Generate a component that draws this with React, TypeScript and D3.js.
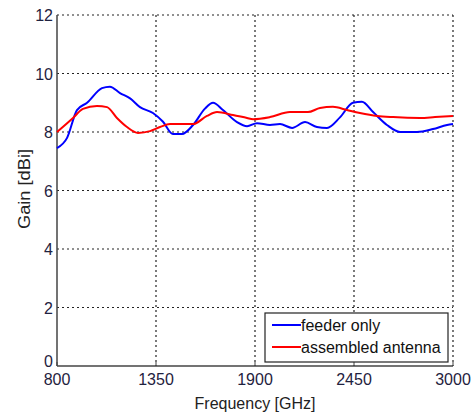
import React from "react";
import * as d3 from "d3";

const feederFreq = [800, 856, 911, 967, 1050, 1094, 1150, 1206, 1261, 1333, 1389, 1444, 1494, 1556, 1622, 1667, 1722, 1800, 1856, 1911, 1983, 2039, 2106, 2178, 2244, 2300, 2372, 2444, 2494, 2556, 2633, 2706, 2800, 2889, 2967, 3000];
const feederGain = [7.45, 7.8, 8.75, 9.0, 9.5, 9.55, 9.33, 9.15, 8.85, 8.65, 8.35, 7.93, 7.93, 8.24, 8.8, 9.0, 8.75, 8.34, 8.2, 8.3, 8.24, 8.27, 8.14, 8.34, 8.17, 8.14, 8.5, 9.0, 9.03, 8.68, 8.24, 8.0, 8.0, 8.1, 8.24, 8.27];
const assembledFreq = [800, 889, 944, 1022, 1078, 1133, 1189, 1250, 1317, 1372, 1428, 1556, 1633, 1689, 1778, 1856, 1889, 1983, 2094, 2194, 2261, 2333, 2411, 2483, 2578, 2667, 2817, 2900, 3000];
const assembledGain = [8.0, 8.48, 8.79, 8.89, 8.85, 8.48, 8.17, 7.97, 8.03, 8.17, 8.27, 8.27, 8.55, 8.68, 8.58, 8.48, 8.44, 8.51, 8.68, 8.68, 8.82, 8.86, 8.75, 8.65, 8.55, 8.51, 8.48, 8.51, 8.55];
const xTicks = [800, 1350, 1900, 2450, 3000];
const yTicks = [0, 2, 4, 6, 8, 10, 12];
const seriesNames = ["feeder only", "assembled antenna"];
const seriesColors = ["#0000ff", "#ff0000"];

export default function App() {
  const W = 475, H = 417;
  const left = 57, right = 453, top = 15, bottom = 366;
  const x = d3.scaleLinear().domain([800, 3000]).range([left, right]);
  const y = d3.scaleLinear().domain([0, 12]).range([bottom, top]);
  const line = d3.line<[number, number]>().x(d => x(d[0])).y(d => y(d[1])).curve(d3.curveMonotoneX);
  const feeder = feederFreq.map((f, i) => [f, feederGain[i]] as [number, number]);
  const assembled = assembledFreq.map((f, i) => [f, assembledGain[i]] as [number, number]);
  const font = "'Liberation Sans', Arial, sans-serif";
  const tc = "#1f2240";
  return (
    <svg width={W} height={H} style={{ position: "absolute", left: 0, top: 0 }} fontFamily={font}>
      <rect width={W} height={H} fill="#fff" />
      {yTicks.filter(t => t > 0).map(t => (
        <line key={"gy" + t} x1={left} x2={right} y1={y(t)} y2={y(t)} stroke="#222" strokeWidth={1.2} strokeDasharray="2,3" />
      ))}
      {xTicks.filter(t => t > 800).map(t => (
        <line key={"gx" + t} x1={x(t)} x2={x(t)} y1={top} y2={bottom} stroke="#222" strokeWidth={1.2} strokeDasharray="2,3" />
      ))}
      <line x1={left} x2={left} y1={top} y2={bottom} stroke="#444" strokeWidth={1.5} />
      <line x1={left} x2={right} y1={bottom} y2={bottom} stroke="#444" strokeWidth={1.5} />
      {xTicks.map(t => (
        <line key={"tx" + t} x1={x(t)} x2={x(t)} y1={bottom} y2={bottom - 4} stroke="#444" strokeWidth={1} />
      ))}
      {yTicks.map(t => (
        <text key={"ly" + t} x={left - 4} y={t === 0 ? y(t) + 1 : y(t) + 6} textAnchor="end" fontSize={16} fill={tc}>{t}</text>
      ))}
      {xTicks.map(t => (
        <text key={"lx" + t} x={x(t)} y={385} textAnchor="middle" fontSize={16} fill={tc}>{t}</text>
      ))}
      <text x={(left + right) / 2} y={409} textAnchor="middle" fontSize={16} fill="#222">Frequency [GHz]</text>
      <text transform={`translate(30,189) rotate(-90)`} textAnchor="middle" fontSize={16} fill="#222" textLength={80} lengthAdjust="spacingAndGlyphs">Gain [dBi]</text>
      <path d={line(feeder) || ""} fill="none" stroke={seriesColors[0]} strokeWidth={2} />
      <path d={line(assembled) || ""} fill="none" stroke={seriesColors[1]} strokeWidth={2} />
      <rect x={265} y={313} width={183} height={49} fill="#fff" stroke="#222" strokeWidth={1.2} />
      {seriesNames.map((n, i) => (
        <g key={n}>
          <line x1={272} x2={301} y1={325 + i * 22} y2={325 + i * 22} stroke={seriesColors[i]} strokeWidth={2} />
          <text x={301} y={331 + i * 22} fontSize={16} fill="#111">{n}</text>
        </g>
      ))}
    </svg>
  );
}
